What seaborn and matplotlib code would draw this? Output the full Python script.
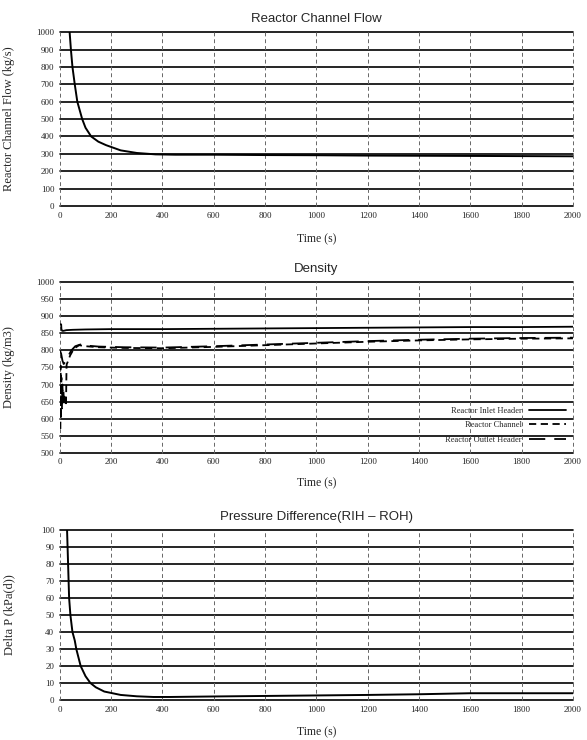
import matplotlib
matplotlib.use("Agg")
import matplotlib.pyplot as plt
import numpy as np
import pandas as pd
import seaborn as sns

# ---- data ----
flow_t = [38, 40, 43, 49, 58, 68, 87, 100, 122, 150, 180, 237, 300, 373, 450,
          600, 800, 1000, 1200, 1400, 1600, 1800, 2000]
flow_v = [1000, 960, 900, 800, 700, 600, 500, 450, 400, 370, 350, 320, 305, 297, 295,
          295, 293, 292, 290, 289, 288, 287, 286]

inlet_t = [0, 5, 6, 9, 14, 25, 50, 100, 200, 400, 600, 800, 1000, 1200, 1400, 1600, 1800, 2000]
inlet_v = [876, 876, 862, 857, 857, 859, 860, 861, 862, 862, 863, 864, 865, 866, 867, 868, 868, 869]

chan_t = [2, 3, 4, 6, 8, 10, 12, 14, 16, 18, 20, 22, 24, 26, 27, 30, 40, 55, 75, 100,
          150, 250, 400, 600, 800, 1000, 1200, 1400, 1600, 1800, 2000]
chan_v = [570, 755, 600, 720, 630, 700, 640, 680, 645, 670, 650, 660, 645, 755, 760, 765,
          785, 805, 815, 812, 809, 807, 806, 810, 815, 820, 825, 829, 832, 834, 835]

outlet_t = [0, 5, 10, 15, 20, 30, 45, 60, 80, 100, 150, 250, 400, 600, 800, 1000,
            1200, 1400, 1600, 1800, 2000]
outlet_v = [800, 790, 770, 760, 765, 780, 800, 812, 817, 814, 811, 809, 808, 812, 817,
            822, 827, 831, 834, 836, 837]

dp_t = [28, 30, 33, 36, 41, 49, 58, 64, 81, 100, 119, 140, 173, 237, 300, 365, 430,
        600, 800, 1000, 1200, 1400, 1600, 1800, 2000]
dp_v = [100, 90, 75, 60, 50, 40, 35, 30, 20, 14, 10, 7.5, 5, 3, 2.2, 1.8, 1.8,
        2.1, 2.4, 2.7, 3.0, 3.4, 4.0, 4.0, 4.0]

x_ticks = list(range(0, 2001, 200))

sns.set_style("white")
plt.rcParams["font.family"] = ["Liberation Serif", "DejaVu Serif"]

fig = plt.figure(figsize=(5.87, 7.40), dpi=100)
left, width = 0.102, 0.874
ax1 = fig.add_axes([left, 0.7216, width, 0.235])
ax2 = fig.add_axes([left, 0.388, width, 0.231])
ax3 = fig.add_axes([left, 0.054, width, 0.230])

title_font = dict(family=["Liberation Sans", "DejaVu Sans"], size=9.5)


def style_axes(ax, yticks, title, ylabel, xlab_y):
    ax.set_xlim(0, 2000)
    ax.set_ylim(yticks[0], yticks[-1])
    ax.set_xticks(x_ticks)
    ax.set_yticks(yticks)
    ax.tick_params(axis="both", labelsize=6.5, length=3, width=0.8, color="black",
                   pad=1, direction="out")
    ax.tick_params(axis="x", length=0, pad=4)
    for s in ax.spines.values():
        s.set_visible(False)
    ax.grid(False)
    for y in yticks:
        ax.axhline(y, color="black", lw=1.2, zorder=1, clip_on=False)
    for x in x_ticks:
        ax.axvline(x, color="#666666", lw=0.7, ls=(0, (4, 3)), zorder=1, clip_on=False)
    ax.set_title(title, pad=7, **title_font)
    ax.set_ylabel(ylabel, fontsize=9)
    ax.yaxis.set_label_coords(-0.087, 0.5)
    ax.set_xlabel("Time (s)", fontsize=8.5)
    ax.xaxis.set_label_coords(0.5, xlab_y)


# Reactor channel flow
sns.lineplot(x=flow_t, y=flow_v, ax=ax1, color="black", lw=1.4, sort=False,
             estimator=None, zorder=3)
style_axes(ax1, list(range(0, 1001, 100)), "Reactor Channel Flow",
           "Reactor Channel Flow (kg/s)", -0.155)

# Density
dens = pd.concat([
    pd.DataFrame({"t": inlet_t, "rho": inlet_v, "s": "Reactor Inlet Header"}),
    pd.DataFrame({"t": chan_t, "rho": chan_v, "s": "Reactor Channel"}),
    pd.DataFrame({"t": outlet_t, "rho": outlet_v, "s": "Reactor Outlet Header"}),
])
styles = {"Reactor Inlet Header": "-",
          "Reactor Channel": (0, (4, 2.5)),
          "Reactor Outlet Header": (0, (9, 5))}
for name, grp in dens.groupby("s", sort=False):
    sns.lineplot(data=grp, x="t", y="rho", ax=ax2, color="black", lw=1.3,
                 linestyle=styles[name], sort=False, estimator=None, label=name,
                 zorder=3)
style_axes(ax2, list(range(500, 1001, 50)), "Density", "Density (kg/m3)", -0.14)
ax2.legend(loc="lower right", bbox_to_anchor=(0.995, 0.03), frameon=False,
           markerfirst=False, fontsize=6, handlelength=4.5, labelspacing=0.75,
           borderpad=0, handletextpad=0.8)

# Pressure difference
sns.lineplot(x=dp_t, y=dp_v, ax=ax3, color="black", lw=1.4, sort=False,
             estimator=None, zorder=3)
style_axes(ax3, list(range(0, 101, 10)), "Pressure Difference(RIH \u2013 ROH)",
           "Delta P (kPa(d))", -0.155)

fig.savefig("out.png", dpi=100)
